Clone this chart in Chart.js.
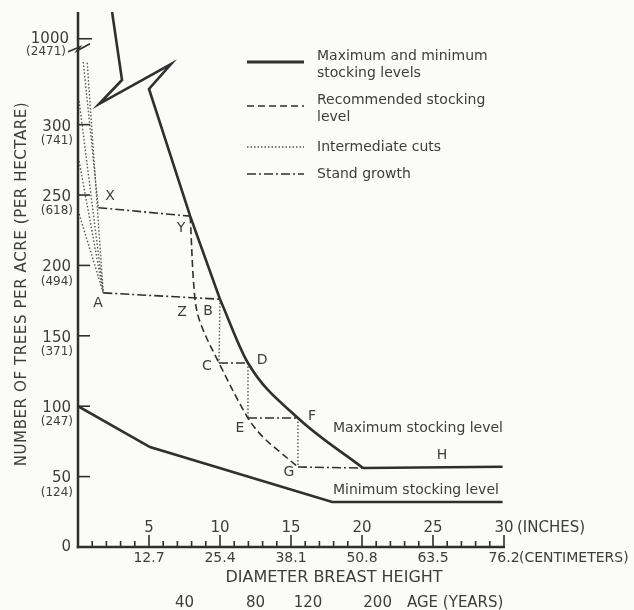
<!DOCTYPE html>
<html lang="en">
<head>
    <meta charset="UTF-8" />
    <title>Stocking guide</title>
    <script src="https://cdn.jsdelivr.net/npm/chart.js@4.4.1/dist/chart.umd.min.js"></script>
    <style>
        html, body { margin: 0; padding: 0; background: #fbfbf9; }
        canvas { display: block; }
    </style>
</head>
<body>
    <canvas id="stockingChart" width="634" height="610"></canvas>

    <script>
        // x = diameter breast height (inches), y = trees per acre.
        // values above 300 lie in the broken part of the axis (1000 sits at 361)
        const maxUpperDbh = [2.4, 3.1, 1.48, 6.55, 5.0, 7.9, 10.0];
        const maxUpperTrees = [380, 331.7, 314.6, 343, 325.3, 235, 176];
        const maxCurveDbh = [10.0, 11.97, 15.49, 20.07];
        const maxCurveTrees = [176, 130.7, 91.6, 56.1];
        const maxFlatDbh = [20.07, 29.9];
        const maxFlatTrees = [56.1, 57];
        const minDbh = [0, 5.07, 17.9, 29.9];
        const minTrees = [100, 71, 32, 32];
        const recDbh = [7.9, 8.22, 8.62, 9.93, 11.97, 13.03, 14.23, 15.49];
        const recTrees = [235, 178, 159.1, 130.7, 91.6, 78.1, 67.5, 56.8];
        // stand growth: X-Y, A-B, C-D, E-F, G-H (null = break)
        const growthDbh = [1.43, 7.9, 7.9, 1.78, 10.0, 10.0, 9.93, 11.97, 11.97, 11.97, 15.49, 15.49, 15.49, 20.07];
        const growthTrees = [241, 235, null, 180.5, 176, null, 130.7, 130.7, null, 91.6, 91.6, null, 56.8, 56.1];
        // intermediate cuts: B-C, D-E, F-G and the early thinnings to X and A
        const cutDbh = [10.0, 9.93, 9.93, 11.97, 11.97, 11.97, 15.49, 15.49, 15.49,
            0.37, 1.43, 1.43, 0.65, 1.78, 1.78, 0.08, 1.78, 1.78, 0.08, 1.78, 1.78, 0.08, 1.78];
        const cutTrees = [176, 130.7, null, 130.7, 91.6, null, 91.6, 56.8, null,
            344.5, 241, null, 344, 180.5, null, 316.8, 180.5, null, 274, 180.5, null, 236.5, 180.5];

        const treeTicks = [0, 50, 100, 150, 200, 250, 300];
        const hectareLabels = ['', '(124)', '(247)', '(371)', '(494)', '(618)', '(741)'];
        const breakTick = 361;
        const breakLabels = ['1000', '(2471)'];
        const inchTicks = [5, 10, 15, 20, 25, 30];
        const cmLabels = ['12.7', '25.4', '38.1', '50.8', '63.5', '76.2'];
        const ageLabels = ['40', '80', '120', '200'];
        const ageDbh = [7.5, 12.5, 16.2, 21.1];

        const pointNames = ['X', 'Y', 'A', 'Z', 'B', 'C', 'D', 'E', 'F', 'G', 'H'];
        const nameDbh = [2.25, 7.25, 1.41, 7.32, 9.15, 9.08, 12.96, 11.41, 16.48, 14.86, 25.63];
        const nameTrees = [249.3, 226.6, 173.3, 166.8, 167.5, 128.6, 132.8, 84.5, 93.0, 53.3, 65.3];

        const ink = '#2f2f2f';
        const textInk = '#3d3d3d';
        const font = size => size + 'px "DejaVu Sans", sans-serif';

        function xy(xs, ys) {
            return xs.map((v, i) => ({ x: v, y: ys[i] }));
        }

        function seg(ctx, x1, y1, x2, y2) {
            ctx.beginPath();
            ctx.moveTo(x1, y1);
            ctx.lineTo(x2, y2);
            ctx.stroke();
        }

        function label(ctx, str, x, y, size, align) {
            ctx.font = font(size);
            ctx.textAlign = align || 'center';
            ctx.textBaseline = 'middle';
            ctx.fillText(str, x, y);
        }

        const decor = {
            id: 'decor',
            beforeDraw(chart) {
                const ctx = chart.ctx;
                ctx.save();
                ctx.fillStyle = '#fbfbf9';
                ctx.fillRect(0, 0, chart.width, chart.height);
                ctx.restore();
            },
            afterDraw(chart) {
                const { ctx, chartArea: a } = chart;
                const x = chart.scales.x, y = chart.scales.y;
                ctx.save();
                ctx.strokeStyle = ink;
                ctx.fillStyle = textInk;
                ctx.lineCap = 'butt';

                // axes
                ctx.lineWidth = 2.5;
                seg(ctx, a.left, a.top, a.left, a.bottom + 1.2);
                seg(ctx, a.left - 1.2, a.bottom, x.getPixelForValue(30) + 1, a.bottom);
                ctx.lineWidth = 1.6;
                for (let i = 1; i <= 30; i++) {
                    const px = x.getPixelForValue(i);
                    seg(ctx, px, a.bottom, px, a.bottom - (i % 5 ? 6 : 12));
                }
                treeTicks.forEach(v => {
                    if (v > 0) seg(ctx, a.left, y.getPixelForValue(v), a.left + 12, y.getPixelForValue(v));
                });
                const by = y.getPixelForValue(breakTick);
                seg(ctx, a.left, by, a.left + 14, by);
                // axis break mark
                ctx.beginPath();
                ctx.moveTo(a.left - 10, by + 13);
                ctx.lineTo(a.left + 2, by + 8);
                ctx.lineTo(a.left - 1, by + 12);
                ctx.lineTo(a.left + 12, by + 5);
                ctx.stroke();

                // y tick labels
                treeTicks.forEach((v, i) => {
                    const py = y.getPixelForValue(v);
                    label(ctx, String(v), 71, v === 0 ? py : py + 2, 15, 'right');
                    if (hectareLabels[i]) label(ctx, hectareLabels[i], 73, py + 16, 12, 'right');
                });
                label(ctx, breakLabels[0], 69, by, 15, 'right');
                label(ctx, breakLabels[1], 66, by + 13, 12, 'right');

                // y title
                ctx.save();
                ctx.translate(22, 284);
                ctx.rotate(-Math.PI / 2);
                ctx.letterSpacing = '0.6px';
                label(ctx, 'NUMBER OF TREES PER ACRE (PER HECTARE)', 0, 0, 15, 'center');
                ctx.restore();

                // x labels
                inchTicks.forEach((v, i) => {
                    const px = x.getPixelForValue(v);
                    label(ctx, String(v), px, a.bottom - 19, 15);
                    label(ctx, cmLabels[i], px, a.bottom + 11, 14);
                });
                const endPx = x.getPixelForValue(30);
                label(ctx, '(INCHES)', endPx + 13, a.bottom - 19, 15, 'left');
                label(ctx, '(CENTIMETERS)', endPx + 15, a.bottom + 11, 14, 'left');
                label(ctx, 'DIAMETER BREAST HEIGHT', 334, a.bottom + 31, 16);
                ageLabels.forEach((t, i) => label(ctx, t, x.getPixelForValue(ageDbh[i]), a.bottom + 56, 15));
                label(ctx, 'AGE (YEARS)', 407, a.bottom + 56, 15, 'left');

                // line names and point letters
                label(ctx, 'Maximum stocking level', x.getPixelForValue(17.96), y.getPixelForValue(84.5), 14, 'left');
                label(ctx, 'Minimum stocking level', x.getPixelForValue(17.96), y.getPixelForValue(40.5), 14, 'left');
                pointNames.forEach((n, i) => {
                    label(ctx, n, x.getPixelForValue(nameDbh[i]), y.getPixelForValue(nameTrees[i]), 14);
                });

                // legend
                const items = [
                    { lines: ['Maximum and minimum', 'stocking levels'], y: 62, w: 3, dash: [] },
                    { lines: ['Recommended stocking', 'level'], y: 106, w: 1.6, dash: [7, 4] },
                    { lines: ['Intermediate cuts'], y: 147, w: 1.4, dash: [1.5, 2], color: '#555' },
                    { lines: ['Stand growth'], y: 174, w: 1.6, dash: [9, 3, 2, 3] }
                ];
                items.forEach(it => {
                    ctx.save();
                    ctx.strokeStyle = it.color || ink;
                    ctx.lineWidth = it.w;
                    ctx.setLineDash(it.dash);
                    seg(ctx, 247, it.y, 304, it.y);
                    ctx.restore();
                    it.lines.forEach((t, k) => label(ctx, t, 317, it.y - (it.lines.length > 1 ? 6 : 0) + k * 17, 14, 'left'));
                });
                ctx.restore();
            }
        };

        const base = { pointRadius: 0, fill: false, tension: 0, borderColor: ink, borderCapStyle: 'butt' };

        new Chart(document.getElementById('stockingChart'), {
            type: 'line',
            data: {
                datasets: [
                    { ...base, label: 'Maximum', data: xy(maxUpperDbh, maxUpperTrees), borderWidth: 2.6, borderJoinStyle: 'miter' },
                    { ...base, label: 'Maximum curve', data: xy(maxCurveDbh, maxCurveTrees), borderWidth: 2.6, cubicInterpolationMode: 'monotone' },
                    { ...base, label: 'Maximum flat', data: xy(maxFlatDbh, maxFlatTrees), borderWidth: 2.6 },
                    { ...base, label: 'Minimum', data: xy(minDbh, minTrees), borderWidth: 2.6 },
                    { ...base, label: 'Recommended', data: xy(recDbh, recTrees), borderWidth: 1.6, borderDash: [7, 4], tension: 0.35 },
                    { ...base, label: 'Stand growth', data: xy(growthDbh, growthTrees), borderWidth: 1.6, borderDash: [9, 3, 2, 3] },
                    { ...base, label: 'Intermediate cuts', data: xy(cutDbh, cutTrees), borderWidth: 1.4, borderDash: [1.5, 2], borderColor: '#555' }
                ]
            },
            options: {
                responsive: false,
                animation: false,
                events: [],
                layout: { padding: { left: 78, right: 130, top: 12, bottom: 63 } },
                scales: {
                    x: { type: 'linear', min: 0, max: 30, display: false },
                    y: { type: 'linear', min: 0, max: 380, display: false }
                },
                plugins: {
                    legend: { display: false },
                    tooltip: { enabled: false }
                }
            },
            plugins: [decor]
        });
    </script>
</body>
</html>
